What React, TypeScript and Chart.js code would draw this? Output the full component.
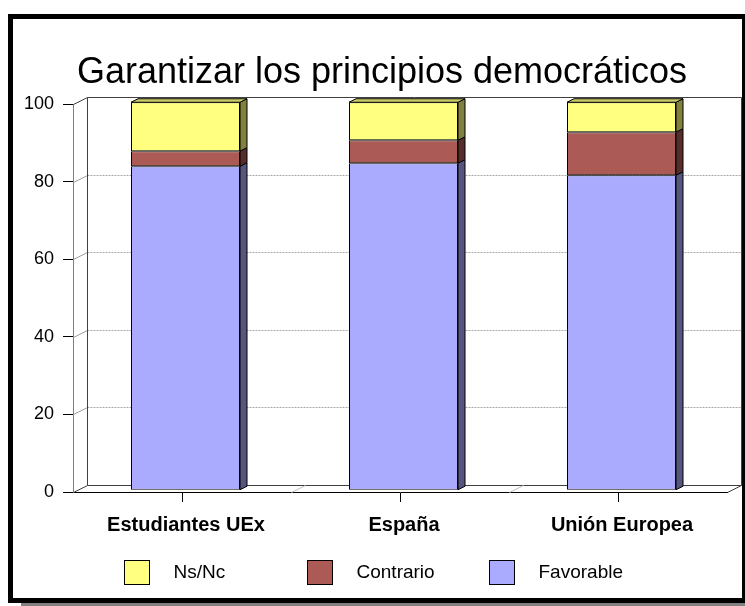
import { useEffect, useRef } from "react";
import { Chart, registerables } from "chart.js";

Chart.register(...registerables);

const titleText = "Garantizar los principios democráticos";
const categories = ["Estudiantes UEx", "España", "Unión Europea"];
const favorable = [83.5, 84.3, 81.2];
const contrario = [3.9, 5.9, 11.1];
const nsnc = [12.6, 9.8, 7.7];
const seriesNames = ["Favorable", "Contrario", "Ns/Nc"];
const frontColors = ["#AAAAFF", "#AB5A55", "#FFFF80"];
const sideColors = ["#55557F", "#552D2A", "#80803F"];
const topColors = ["#8888CC", "#884844", "#CCCC66"];
const yTicks = [0, 20, 40, 60, 80, 100];

const FONT = '"Liberation Sans", Arial, Helvetica, sans-serif';
const DX = 14;
const DY = 7;
const BAR_FRONT = 0.25;
const BAR_BACK = 0.75;

const frame3d = {
  id: "frame3d",
  beforeDraw(chart: any) {
    const { ctx, width, height } = chart;
    ctx.save();
    ctx.fillStyle = "#ffffff";
    ctx.fillRect(0, 0, width, height);
    ctx.fillStyle = "#808080";
    ctx.fillRect(21, 603, 725, 3);
    ctx.fillStyle = "#000000";
    ctx.fillRect(8, 14, 738, 5);
    ctx.fillRect(8, 598, 738, 5);
    ctx.fillRect(8, 14, 5, 589);
    ctx.fillRect(742, 14, 5, 589);
    ctx.font = `36px ${FONT}`;
    ctx.textAlign = "center";
    ctx.textBaseline = "alphabetic";
    ctx.fillText(titleText, 382, 83);
    ctx.restore();
  },
  beforeDatasetsDraw(chart: any) {
    const { ctx, chartArea: a, scales } = chart;
    const y = scales.y;
    const x = scales.x;
    ctx.save();
    ctx.lineWidth = 1;
    const L = a.left + 0.5;
    const R = a.right + 0.5;
    for (const v of yTicks) {
      const py = Math.round(y.getPixelForValue(v)) + 0.5;
      const edge = v === 0 || v === 100;
      ctx.setLineDash([]);
      ctx.strokeStyle = edge ? "#404040" : "#a0a0a0";
      ctx.beginPath();
      ctx.moveTo(L, py);
      ctx.lineTo(L + DX, py - DY);
      ctx.stroke();
      if (edge) {
        ctx.strokeStyle = "#404040";
        ctx.beginPath();
        ctx.moveTo(L + DX, py - DY);
        ctx.lineTo(R + DX, py - DY);
        ctx.stroke();
      } else {
        ctx.strokeStyle = "#a8a8a8";
        ctx.setLineDash([2, 1]);
        ctx.beginPath();
        ctx.moveTo(L + DX, py - DY);
        ctx.lineTo(R + DX, py - DY);
        ctx.stroke();
      }
    }
    ctx.setLineDash([]);
    const top = Math.round(y.getPixelForValue(100)) + 0.5;
    const bot = Math.round(y.getPixelForValue(0)) + 0.5;
    ctx.strokeStyle = "#404040";
    ctx.beginPath();
    ctx.moveTo(L + DX, top - DY);
    ctx.lineTo(L + DX, bot - DY);
    ctx.moveTo(R + DX, top - DY);
    ctx.lineTo(R + DX, bot - DY);
    ctx.moveTo(R, bot);
    ctx.lineTo(R + DX, bot - DY);
    ctx.stroke();
    ctx.strokeStyle = "#c0c0c0";
    for (let i = 0; i < categories.length - 1; i++) {
      const px = Math.round((x.getPixelForValue(i) + x.getPixelForValue(i + 1)) / 2) + 0.5;
      ctx.beginPath();
      ctx.moveTo(px, bot);
      ctx.lineTo(px + DX, bot - DY);
      ctx.stroke();
    }
    ctx.restore();
    ctx.save();
    ctx.translate(BAR_FRONT * DX, -BAR_FRONT * DY);
  },
  afterDatasetsDraw(chart: any) {
    const { ctx } = chart;
    ctx.restore();
    const ox = BAR_FRONT * DX;
    const oy = -BAR_FRONT * DY;
    const dx = (BAR_BACK - BAR_FRONT) * DX;
    const dy = (BAR_BACK - BAR_FRONT) * DY;
    ctx.save();
    ctx.lineWidth = 1;
    ctx.strokeStyle = "#000000";
    const n = chart.data.datasets.length;
    for (let i = 0; i < n; i++) {
      const meta = chart.getDatasetMeta(i);
      meta.data.forEach((el: any) => {
        const p = el.getProps(["x", "y", "base", "width"], true);
        const left = p.x - p.width / 2 + ox;
        const right = p.x + p.width / 2 + ox;
        const t = Math.min(p.y, p.base) + oy;
        const b = Math.max(p.y, p.base) + oy;
        ctx.fillStyle = sideColors[i];
        ctx.beginPath();
        ctx.moveTo(right, t);
        ctx.lineTo(right + dx, t - dy);
        ctx.lineTo(right + dx, b - dy);
        ctx.lineTo(right, b);
        ctx.closePath();
        ctx.fill();
        ctx.stroke();
        if (i === n - 1) {
          ctx.fillStyle = topColors[i];
          ctx.beginPath();
          ctx.moveTo(left, t);
          ctx.lineTo(left + dx, t - dy);
          ctx.lineTo(right + dx, t - dy);
          ctx.lineTo(right, t);
          ctx.closePath();
          ctx.fill();
          ctx.stroke();
        }
      });
    }
    ctx.restore();
  },
  afterDraw(chart: any) {
    const { ctx } = chart;
    const ds = chart.data.datasets;
    ctx.save();
    ctx.font = `19px ${FONT}`;
    ctx.textAlign = "left";
    ctx.textBaseline = "middle";
    const startX = 124;
    const colW = 182.5;
    const boxY = 560;
    const boxW = 25;
    const boxH = 24;
    let k = 0;
    for (let i = ds.length - 1; i >= 0; i--) {
      const bx = Math.round(startX + k * colW) + 0.5;
      ctx.fillStyle = ds[i].backgroundColor;
      ctx.fillRect(bx, boxY + 0.5, boxW, boxH);
      ctx.strokeStyle = "#000";
      ctx.lineWidth = 1;
      ctx.strokeRect(bx, boxY + 0.5, boxW, boxH);
      ctx.fillStyle = "#000";
      ctx.fillText(ds[i].label, bx + 49, boxY + boxH / 2 + 1);
      k++;
    }
    ctx.restore();
  },
};

export default function App() {
  const ref = useRef<HTMLCanvasElement | null>(null);
  useEffect(() => {
    if (!ref.current) return;
    const values = [favorable, contrario, nsnc];
    const chart = new Chart(ref.current, {
      type: "bar",
      data: {
        labels: categories,
        datasets: values.map((d, i) => ({
          label: seriesNames[i],
          data: d,
          backgroundColor: frontColors[i],
          borderColor: "#000000",
          borderWidth: 1,
          borderSkipped: false,
          barPercentage: 0.5,
          categoryPercentage: 1,
          clip: false,
        })),
      },
      options: {
        responsive: false,
        animation: false,
        devicePixelRatio: 1,
        layout: { padding: { top: 104, right: 18, bottom: 54, left: 0 } },
        plugins: {
          legend: { display: false },
          tooltip: { enabled: false },
          title: { display: false },
        },
        scales: {
          x: {
            stacked: true,
            afterFit: (s: any) => {
              s.height = 60;
            },
            grid: { drawOnChartArea: false, offset: false, tickLength: 10, color: "#000" },
            border: { display: true, color: "#000" },
            ticks: {
              color: "#000",
              font: { family: FONT, size: 20, weight: "bold" },
              padding: 11,
              labelOffset: 4,
              maxRotation: 0,
              autoSkip: false,
            },
          },
          y: {
            stacked: true,
            min: 0,
            max: 100,
            afterFit: (s: any) => {
              s.width = 73;
            },
            grid: { drawOnChartArea: false, tickLength: 10, color: "#000" },
            border: { display: true, color: "#808080" },
            ticks: {
              stepSize: 20,
              color: "#000",
              font: { family: FONT, size: 18 },
              padding: 9,
            },
          },
        },
      },
      plugins: [frame3d],
    });
    return () => chart.destroy();
  }, []);
  return (
    <div style={{ position: "absolute", left: 0, top: 0, width: 745, height: 606 }}>
      <canvas ref={ref} width={745} height={606} />
    </div>
  );
}
